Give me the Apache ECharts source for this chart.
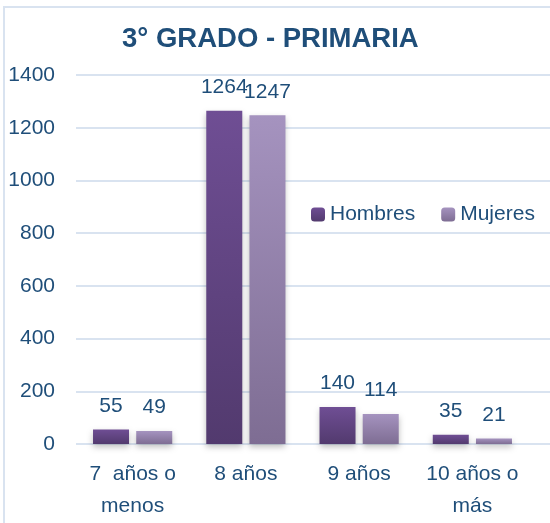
<!DOCTYPE html>
<html><head><meta charset="utf-8">
<script src="https://cdn.jsdelivr.net/npm/echarts@6/dist/echarts.min.js"></script>
<style>html,body{margin:0;padding:0;background:#fff}#c{width:550px;height:523px}</style>
</head><body><div id="c"></div>
<script>
var categories = ['7  años o\nmenos', '8 años', '9 años', '10 años o\nmás'];
var hombres = [55, 1264, 140, 35];
var mujeres = [49, 1247, 114, 21];
var seriesNames = ['Hombres', 'Mujeres'];
var titleText = '3° GRADO - PRIMARIA';

var txt = '#1f4e79';
var font = '"Liberation Sans", Arial, sans-serif';
var chart = echarts.init(document.getElementById('c'));
function grad(a, b) {
  return new echarts.graphic.LinearGradient(0, 0, 0, 1, [{offset: 0, color: a}, {offset: 1, color: b}]);
}
chart.setOption({
  animation: false,
  textStyle: {fontFamily: font},
  graphic: [{type: 'rect', shape: {x: 4, y: 7, width: 600, height: 600},
    style: {fill: 'none', stroke: '#d9e3f0', lineWidth: 2}, z: -10}],
  title: {text: titleText, left: 117, top: 20,
    textStyle: {color: txt, fontSize: 27.5, fontWeight: 'bold', fontFamily: font}},
  legend: {data: seriesNames, left: 305, top: 198, itemWidth: 14, itemHeight: 14, itemGap: 26,
    backgroundColor: '#fff', padding: [6, 6], z: 10,
    textStyle: {color: txt, fontSize: 21, fontFamily: font}},
  grid: [
    {left: 76, right: 21, top: 75, bottom: 79},
    {left: 76, right: 0, top: 75, bottom: 79}
  ],
  xAxis: [
    {type: 'category', data: categories, gridIndex: 0,
     axisLine: {show: false}, axisTick: {show: false},
     axisLabel: {interval: 0, color: txt, fontSize: 21, lineHeight: 32, margin: 14, fontFamily: font}},
    {type: 'value', gridIndex: 1, show: false}
  ],
  yAxis: [
    {type: 'value', min: 0, max: 1400, interval: 200, gridIndex: 0,
     axisLine: {show: false}, axisTick: {show: false}, splitLine: {show: false},
     axisLabel: {color: txt, fontSize: 21, margin: 21, fontFamily: font,
       formatter: function (v) { return String(v); }}},
    {type: 'value', min: 0, max: 1400, interval: 200, gridIndex: 1,
     axisLine: {show: false}, axisTick: {show: false}, axisLabel: {show: false},
     splitLine: {lineStyle: {color: '#d9e3f0', width: 2}}, z: 0}
  ],
  series: [
    {name: seriesNames[0], type: 'bar', data: hombres, barWidth: 36, barGap: '20%',
     itemStyle: {color: grad('#6f4e94', '#523a6e'), shadowColor: 'rgba(0,0,0,0.25)', shadowBlur: 6, shadowOffsetY: 3},
     label: {show: true, position: 'top', distance: 13, color: txt, fontSize: 21, fontFamily: font}},
    {name: seriesNames[1], type: 'bar', data: mujeres, barWidth: 36,
     itemStyle: {color: grad('#a593bf', '#7e6d93'), shadowColor: 'rgba(0,0,0,0.25)', shadowBlur: 6, shadowOffsetY: 3},
     label: {show: true, position: 'top', distance: 13, color: txt, fontSize: 21, fontFamily: font}}
  ]
});
</script></body></html>
